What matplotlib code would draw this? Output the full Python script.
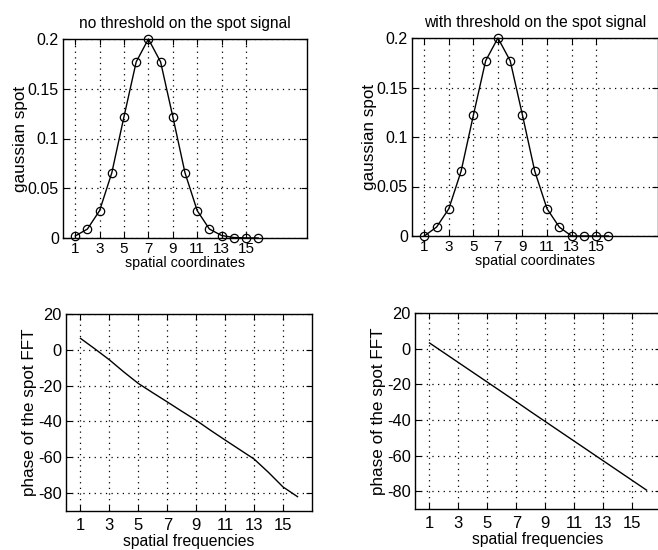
import matplotlib
matplotlib.use("Agg")
import matplotlib.pyplot as plt

plt.rcParams['font.family'] = ['Liberation Sans', 'DejaVu Sans']
plt.rcParams['axes.unicode_minus'] = False

# ---- data ----
x_spot = list(range(1, 17))
spot_no_thr = [0.0020, 0.0090, 0.0275, 0.0655, 0.1220, 0.1770, 0.2000, 0.1770,
               0.1220, 0.0655, 0.0275, 0.0090, 0.0025, 0.0005, 0.0001, 0.0000]
spot_thr = [0.0000, 0.0090, 0.0275, 0.0655, 0.1220, 0.1770, 0.2000, 0.1770,
            0.1220, 0.0655, 0.0275, 0.0090, 0.0000, 0.0000, 0.0000, 0.0000]
x_freq = list(range(1, 17))
phase_no_thr = [6.4, 0.5, -5.6, -12.4, -18.8, -24.0, -29.1, -34.3,
                -39.4, -45.0, -50.4, -55.7, -61.0, -68.5, -76.6, -82.0]
phase_thr = [3.2, -2.3, -7.8, -13.3, -18.8, -24.3, -29.8, -35.4,
             -40.9, -46.4, -51.9, -57.4, -62.9, -68.4, -73.9, -79.4]

xticks = [1, 3, 5, 7, 9, 11, 13, 15]
spot_yticks = [0, 0.05, 0.1, 0.15, 0.2]
spot_yticklabels = ['0', '0.05', '0.1', '0.15', '0.2']
phase_yticks = [-80, -60, -40, -20, 0, 20]

titles = ['no threshold on the spot signal', 'with threshold on the spot signal']

W, H = 658, 550
fig = plt.figure(figsize=(W / 100, H / 100), dpi=100)

def rect(l, r, t, b):
    return [l / W, 1 - b / H, (r - l) / W, (b - t) / H]

ax_tl = fig.add_axes(rect(63, 307, 39, 238))
ax_tr = fig.add_axes(rect(412, 657.5, 38, 236))
ax_bl = fig.add_axes(rect(66, 312, 314, 511))
ax_br = fig.add_axes(rect(415, 661, 313, 509))

YL_FS = 12.3

def style(ax, xfs, yfs, xpad):
    ax.set_xticks(xticks)
    ax.tick_params(direction='in', length=4, width=0.8, top=True, right=True,
                   colors='black')
    ax.tick_params(axis='x', labelsize=xfs, pad=xpad)
    ax.tick_params(axis='y', labelsize=yfs, pad=3)
    ax.grid(True, color='black', linestyle=(0, (1, 3.5)), linewidth=0.9)
    for s in ax.spines.values():
        s.set_linewidth(1.0)
        s.set_color('black')

for ax, y, t in [(ax_tl, spot_no_thr, titles[0]), (ax_tr, spot_thr, titles[1])]:
    ax.plot(x_spot, y, color='black', linewidth=1.0, marker='o', markersize=6,
            markerfacecolor='none', markeredgecolor='black', markeredgewidth=0.9,
            clip_on=False, zorder=3)
    ax.set_xlim(0, 20)
    ax.set_ylim(0, 0.2)
    ax.set_yticks(spot_yticks)
    ax.set_yticklabels(spot_yticklabels)
    ax.set_title(t, fontsize=11.2, pad=8)
    ax.set_xlabel('spatial coordinates', fontsize=10.3, labelpad=0)
    ax.set_ylabel('gaussian spot', fontsize=YL_FS, labelpad=0)
    style(ax, 11, 11.5, 3)

for ax, y in [(ax_bl, phase_no_thr), (ax_br, phase_thr)]:
    ax.plot(x_freq, y, color='black', linewidth=1.0, zorder=3)
    ax.set_xlim(0, 17)
    ax.set_ylim(-90, 20)
    ax.set_yticks(phase_yticks)
    ax.set_xlabel('spatial frequencies', fontsize=11.3, labelpad=1)
    ax.set_ylabel('phase of the spot FFT', fontsize=YL_FS, labelpad=1)
    style(ax, 12, 11.8, 5)

fig.savefig('out.png', dpi=100)
